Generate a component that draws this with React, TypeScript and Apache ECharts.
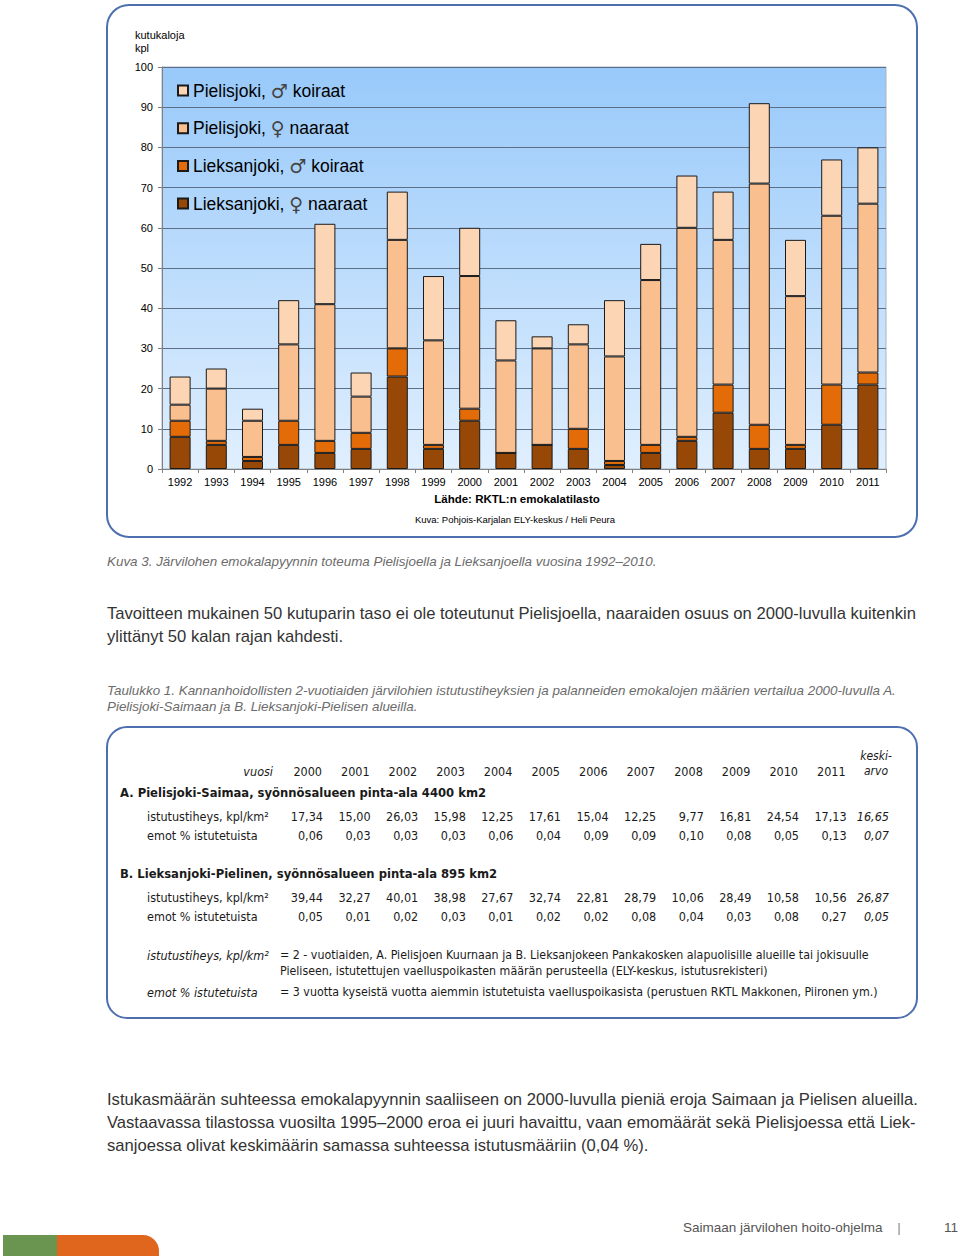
import React, { useEffect, useRef } from "react";
import * as echarts from "echarts";

const years = ["1992","1993","1994","1995","1996","1997","1998","1999","2000","2001","2002","2003","2004","2005","2006","2007","2008","2009","2010","2011"];
const lieksaNaaraat = [8, 6, 2, 6, 4, 5, 23, 5, 12, 4, 6, 5, 1, 4, 7, 14, 5, 5, 11, 21];
const lieksaKoiraat = [4, 1, 1, 6, 3, 4, 7, 1, 3, 0, 0, 5, 1, 2, 1, 7, 6, 1, 10, 3];
const pielisNaaraat = [4, 13, 9, 19, 34, 9, 27, 26, 33, 23, 24, 21, 26, 41, 52, 36, 60, 37, 42, 42];
const pielisKoiraat = [7, 5, 3, 11, 20, 6, 12, 16, 12, 10, 3, 5, 14, 9, 13, 12, 20, 14, 14, 14];
const yTicks = [0, 10, 20, 30, 40, 50, 60, 70, 80, 90, 100];

const seriesNames = ["Pielisjoki, ♂ koiraat", "Pielisjoki, ♀ naaraat", "Lieksanjoki, ♂ koiraat", "Lieksanjoki, ♀ naaraat"];

const tableYears = ["2000","2001","2002","2003","2004","2005","2006","2007","2008","2009","2010","2011"];
const pielisTiheys = ["17,34","15,00","26,03","15,98","12,25","17,61","15,04","12,25","9,77","16,81","24,54","17,13"];
const pielisTiheysKa = "16,65";
const pielisEmot = ["0,06","0,03","0,03","0,03","0,06","0,04","0,09","0,09","0,10","0,08","0,05","0,13"];
const pielisEmotKa = "0,07";
const lieksaTiheys = ["39,44","32,27","40,01","38,98","27,67","32,74","22,81","28,79","10,06","28,49","10,58","10,56"];
const lieksaTiheysKa = "26,87";
const lieksaEmot = ["0,05","0,01","0,02","0,03","0,01","0,02","0,02","0,08","0,04","0,03","0,08","0,27"];
const lieksaEmotKa = "0,05";

const SANS = "'Liberation Sans', Arial, sans-serif";
const NARROW = "'Liberation Sans Narrow', 'DejaVu Sans Condensed', 'Arial Narrow', sans-serif";

function txt(x: number, y: number, text: string, opts: any = {}) {
  const align = opts.align || "left";
  return {
    type: "text",
    x,
    y,
    silent: true,
    style: {
      text,
      fill: opts.fill || "#1a1a1a",
      fontSize: opts.fontSize || 12,
      fontFamily: opts.fontFamily || SANS,
      fontStyle: opts.italic ? "italic" : "normal",
      fontWeight: opts.bold ? "bold" : "normal",
      align,
      verticalAlign: "middle",
      textAlign: align,
      textVerticalAlign: "middle",
    },
  };
}

export default function App() {
  const ref = useRef<HTMLDivElement>(null);
  useEffect(() => {
    if (!ref.current) return;
    const chart = echarts.init(ref.current, null, { renderer: "svg" });

    const colEdge = (i: number) => 323 + i * 47.6;
    const avgEdge = 889;
    const T = { fontFamily: NARROW, fontSize: 12.5 };
    const tableTexts: any[] = [];
    tableTexts.push(txt(273, 771, "vuosi", { ...T, align: "right", italic: true }));
    tableYears.forEach((y, i) => tableTexts.push(txt(colEdge(i) - 1, 771, y, { ...T, align: "right" })));
    tableTexts.push(txt(876, 756, "keski-", { ...T, align: "center", italic: true, fontSize: 12 }));
    tableTexts.push(txt(876, 771, "arvo", { ...T, align: "center", italic: true, fontSize: 12 }));
    tableTexts.push(txt(120, 792, "A. Pielisjoki-Saimaa, syönnösalueen pinta-ala 4400 km2", { ...T, bold: true, fontSize: 12.9 }));
    tableTexts.push(txt(147, 816, "istutustiheys, kpl/km²", T));
    tableTexts.push(txt(147, 835, "emot % istutetuista", T));
    pielisTiheys.forEach((v, i) => tableTexts.push(txt(colEdge(i), 816, v, { ...T, align: "right" })));
    pielisEmot.forEach((v, i) => tableTexts.push(txt(colEdge(i), 835, v, { ...T, align: "right" })));
    tableTexts.push(txt(avgEdge, 816, pielisTiheysKa, { ...T, align: "right", italic: true }));
    tableTexts.push(txt(avgEdge, 835, pielisEmotKa, { ...T, align: "right", italic: true }));
    tableTexts.push(txt(120, 873, "B. Lieksanjoki-Pielinen, syönnösalueen pinta-ala 895 km2", { ...T, bold: true, fontSize: 12.9 }));
    tableTexts.push(txt(147, 897, "istutustiheys, kpl/km²", T));
    tableTexts.push(txt(147, 916, "emot % istutetuista", T));
    lieksaTiheys.forEach((v, i) => tableTexts.push(txt(colEdge(i), 897, v, { ...T, align: "right" })));
    lieksaEmot.forEach((v, i) => tableTexts.push(txt(colEdge(i), 916, v, { ...T, align: "right" })));
    tableTexts.push(txt(avgEdge, 897, lieksaTiheysKa, { ...T, align: "right", italic: true }));
    tableTexts.push(txt(avgEdge, 916, lieksaEmotKa, { ...T, align: "right", italic: true }));
    tableTexts.push(txt(147, 955, "istutustiheys, kpl/km²", { ...T, italic: true }));
    tableTexts.push(txt(280, 955, "= 2 - vuotiaiden, A. Pielisjoen Kuurnaan ja B. Lieksanjokeen Pankakosken alapuolisille alueille tai jokisuulle", { ...T, fontSize: 12.3 }));
    tableTexts.push(txt(280, 971, "Pieliseen, istutettujen vaelluspoikasten määrän perusteella (ELY-keskus, istutusrekisteri)", { ...T, fontSize: 12.3 }));
    tableTexts.push(txt(147, 992, "emot % istutetuista", { ...T, italic: true }));
    tableTexts.push(txt(280, 992, "= 3 vuotta kyseistä vuotta aiemmin istutetuista vaelluspoikasista (perustuen RKTL Makkonen, Piironen ym.)", { ...T, fontSize: 12.3 }));

    const option: any = {
      animation: false,
      backgroundColor: "#ffffff",
      grid: {
        left: 162,
        top: 67,
        width: 724,
        height: 402,
        show: true,
        borderColor: "#a9b4c0",
        borderWidth: 1,
        backgroundColor: new echarts.graphic.LinearGradient(0, 0, 0, 1, [
          { offset: 0, color: "#98c9fa" },
          { offset: 1, color: "#e0effe" },
        ]),
      },
      legend: {
        orient: "vertical",
        left: 172,
        top: 76,
        itemWidth: 10,
        itemHeight: 10,
        itemGap: 18.7,
        icon: "rect",
        data: seriesNames,
        formatter: (name: string) => name.replace(/([♂♀])/, "{s|$1}"),
        textStyle: {
          fontSize: 17.5,
          color: "#000",
          fontFamily: SANS,
          rich: {
            s: { fontFamily: "'DejaVu Sans', sans-serif", fontSize: 19, color: "#444" },
          },
        },
      },
      xAxis: {
        type: "category",
        data: years,
        axisLine: { lineStyle: { color: "#808080" } },
        axisTick: { show: true, length: 4, alignWithLabel: false, lineStyle: { color: "#808080" } },
        axisLabel: { fontSize: 11, color: "#000", fontFamily: SANS, margin: 7, interval: 0 },
      },
      yAxis: {
        type: "value",
        min: 0,
        max: 100,
        interval: 10,
        axisLine: { show: true, lineStyle: { color: "#808080" } },
        axisTick: { show: true, length: 4, lineStyle: { color: "#808080" } },
        axisLabel: {
          fontSize: 11,
          color: "#000",
          fontFamily: SANS,
          margin: 9,
          formatter: (v: number) => (yTicks.includes(v) ? String(v) : ""),
        },
        splitLine: { show: true, lineStyle: { color: "#5d6f86", width: 1 } },
      },
      series: [
        { name: seriesNames[3], data: lieksaNaaraat, color: "#984806" },
        { name: seriesNames[2], data: lieksaKoiraat, color: "#e36c09" },
        { name: seriesNames[1], data: pielisNaaraat, color: "#fabf8f" },
        { name: seriesNames[0], data: pielisKoiraat, color: "#fcd5b4" },
      ].map((s) => ({
        type: "bar",
        name: s.name,
        stack: "total",
        barWidth: 21,
        data: s.data,
        itemStyle: { color: s.color, borderColor: "#1a1a1a", borderWidth: 1 },
      })),
      graphic: [
        {
          type: "rect",
          z: 10,
          silent: true,
          shape: { x: 107, y: 5, width: 810, height: 532, r: 22 },
          style: { fill: "none", stroke: "#4e6fae", lineWidth: 2 },
        },
        txt(135, 35, "kutukaloja", { fontSize: 11, fill: "#000" }),
        txt(135, 48, "kpl", { fontSize: 11, fill: "#000" }),
        txt(517, 499, "Lähde: RKTL:n emokalatilasto", { align: "center", bold: true, fontSize: 11.5, fill: "#000" }),
        txt(515, 519, "Kuva: Pohjois-Karjalan ELY-keskus / Heli Peura", { align: "center", fontSize: 9.5, fill: "#000" }),
        txt(107, 561, "Kuva 3. Järvilohen emokalapyynnin toteuma Pielisjoella ja Lieksanjoella vuosina 1992–2010.", { italic: true, fontSize: 13.4, fill: "#6b6b6b" }),
        txt(107, 613, "Tavoitteen mukainen 50 kutuparin taso ei ole toteutunut Pielisjoella, naaraiden osuus on 2000-luvulla kuitenkin", { fontSize: 16.6, fill: "#333" }),
        txt(107, 636, "ylittänyt 50 kalan rajan kahdesti.", { fontSize: 16.6, fill: "#333" }),
        txt(107, 690, "Taulukko 1. Kannanhoidollisten 2-vuotiaiden järvilohien istutustiheyksien ja palanneiden emokalojen määrien vertailua 2000-luvulla A.", { italic: true, fontSize: 13.4, fill: "#6b6b6b" }),
        txt(107, 706, "Pielisjoki-Saimaan ja B. Lieksanjoki-Pielisen alueilla.", { italic: true, fontSize: 13.4, fill: "#6b6b6b" }),
        {
          type: "rect",
          z: 10,
          silent: true,
          shape: { x: 107, y: 727, width: 810, height: 291, r: 20 },
          style: { fill: "none", stroke: "#4e6fae", lineWidth: 2 },
        },
        ...tableTexts,
        txt(107, 1099, "Istukasmäärän suhteessa emokalapyynnin saaliiseen on 2000-luvulla pieniä eroja Saimaan ja Pielisen alueilla.", { fontSize: 16.6, fill: "#333" }),
        txt(107, 1122, "Vastaavassa tilastossa vuosilta 1995–2000 eroa ei juuri havaittu, vaan emomäärät sekä Pielisjoessa että Liek-", { fontSize: 16.6, fill: "#333" }),
        txt(107, 1145, "sanjoessa olivat keskimäärin samassa suhteessa istutusmääriin (0,04 %).", { fontSize: 16.6, fill: "#333" }),
        txt(683, 1227, "Saimaan järvilohen hoito-ohjelma", { fontSize: 13.5, fill: "#555" }),
        txt(899, 1227, "|", { align: "center", fontSize: 13.5, fill: "#888" }),
        txt(958, 1227, "11", { align: "right", fontSize: 13.5, fill: "#555" }),
        {
          type: "rect",
          silent: true,
          shape: { x: 56, y: 1235, width: 103, height: 21, r: [0, 16, 0, 0] },
          style: { fill: "#e0661e" },
        },
        {
          type: "rect",
          silent: true,
          shape: { x: 3, y: 1235, width: 54, height: 21 },
          style: { fill: "#6a9550" },
        },
      ],
    };
    chart.setOption(option);
    return () => chart.dispose();
  }, []);
  return (
    <div
      ref={ref}
      style={{ position: "absolute", left: 0, top: 0, width: 960, height: 1259, background: "#fff" }}
    />
  );
}
